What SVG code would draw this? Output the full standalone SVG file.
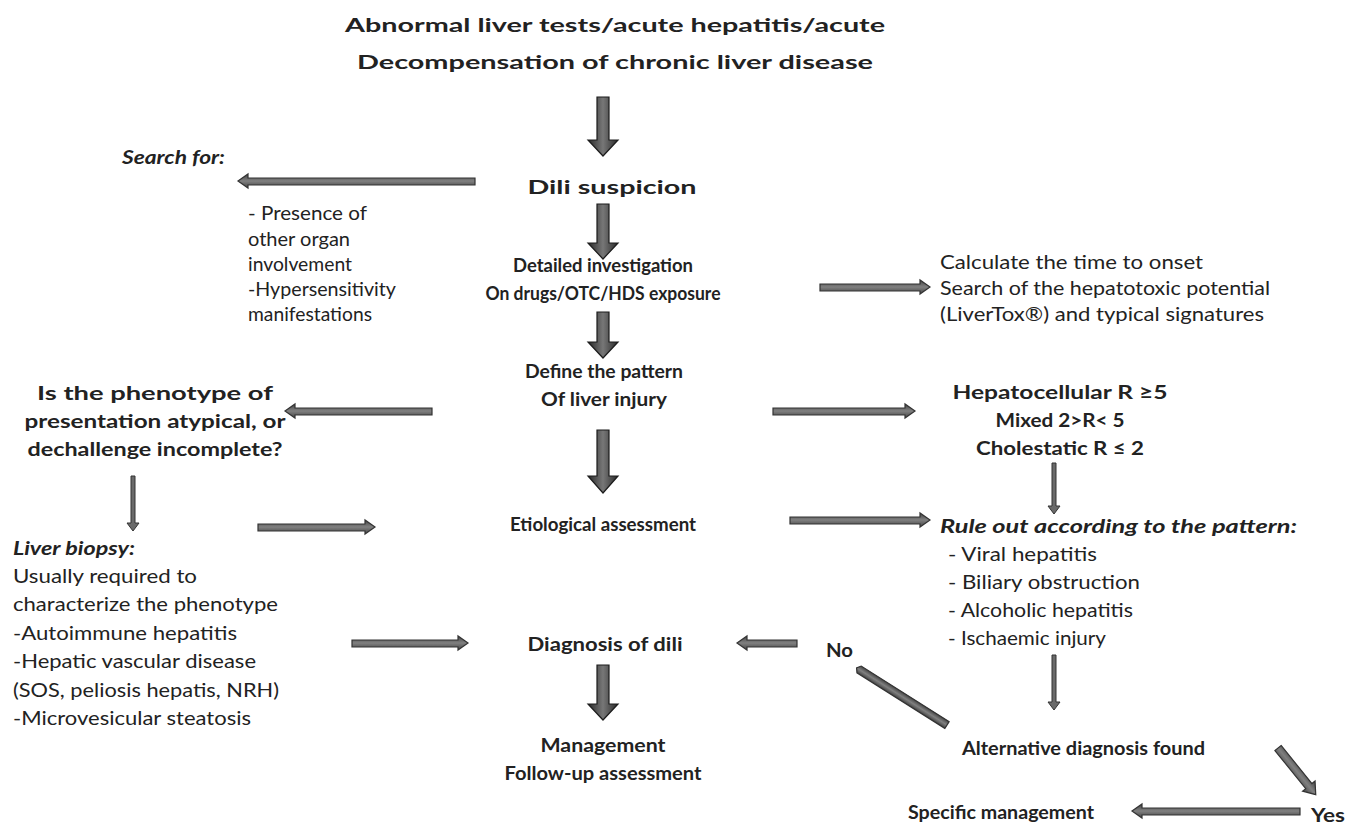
<svg xmlns="http://www.w3.org/2000/svg" width="1357" height="825" viewBox="0 0 1357 825">
<defs>
<linearGradient id="gv" x1="0" y1="0" x2="1" y2="0">
<stop offset="0" stop-color="#2a2a2a"/><stop offset="0.5" stop-color="#777"/><stop offset="1" stop-color="#2a2a2a"/>
</linearGradient>
<linearGradient id="gh" x1="0" y1="0" x2="0" y2="1">
<stop offset="0" stop-color="#444"/><stop offset="0.5" stop-color="#808080"/><stop offset="1" stop-color="#444"/>
</linearGradient>
</defs>
<style>
.t{font-family:Lato,"Open Sans","Liberation Sans",sans-serif;fill:#222;font-size:19px}
.b{font-weight:bold}
.i{font-style:italic}
.c{text-anchor:middle}
.thick{fill:url(#gv);stroke:#1c1c1c;stroke-width:1.2}
.med{fill:url(#gh);stroke:#333;stroke-width:1.2}
.thin{fill:#6a6a6a;stroke:#333;stroke-width:1}
</style>
<rect width="1357" height="825" fill="#fff"/>

<g id="title">
<text class="t b c" x="615" y="32" font-size="27" textLength="540" lengthAdjust="spacingAndGlyphs">Abnormal liver tests/acute hepatitis/acute</text>
<text class="t b c" x="615" y="69" font-size="27" textLength="516" lengthAdjust="spacingAndGlyphs">Decompensation of chronic liver disease</text>
</g>
<g id="dili">
<text class="t b c" x="612" y="194" font-size="23" textLength="169" lengthAdjust="spacingAndGlyphs">Dili suspicion</text>
</g>
<g id="search">
<text class="t b i" x="122" y="164" textLength="103" lengthAdjust="spacingAndGlyphs">Search for:</text>
<text class="t" x="248" y="220" textLength="119" lengthAdjust="spacingAndGlyphs">- Presence of</text>
<text class="t" x="248" y="246" textLength="102" lengthAdjust="spacingAndGlyphs">other organ</text>
<text class="t" x="248" y="271" textLength="104" lengthAdjust="spacingAndGlyphs">involvement</text>
<text class="t" x="248" y="296" textLength="148" lengthAdjust="spacingAndGlyphs">-Hypersensitivity</text>
<text class="t" x="248" y="321" textLength="124" lengthAdjust="spacingAndGlyphs">manifestations</text>
</g>
<g id="investigation">
<text class="t b c" x="603" y="272" font-size="21" textLength="180" lengthAdjust="spacingAndGlyphs">Detailed investigation</text>
<text class="t b c" x="603" y="300" font-size="21" textLength="235" lengthAdjust="spacingAndGlyphs">On drugs/OTC/HDS exposure</text>
</g>
<g id="onset">
<text class="t" x="940" y="269" textLength="263" lengthAdjust="spacingAndGlyphs">Calculate the time to onset</text>
<text class="t" x="940" y="295" textLength="330" lengthAdjust="spacingAndGlyphs">Search of the hepatotoxic potential</text>
<text class="t" x="940" y="321" textLength="324" lengthAdjust="spacingAndGlyphs">(LiverTox®) and typical signatures</text>
</g>
<g id="pattern">
<text class="t b c" x="604" y="378" font-size="21" textLength="158" lengthAdjust="spacingAndGlyphs">Define the pattern</text>
<text class="t b c" x="604" y="406" font-size="21" textLength="126" lengthAdjust="spacingAndGlyphs">Of liver injury</text>
</g>
<g id="phenotype">
<text class="t b c" x="155" y="400" textLength="236" lengthAdjust="spacingAndGlyphs">Is the phenotype of</text>
<text class="t b c" x="155" y="428" textLength="261" lengthAdjust="spacingAndGlyphs">presentation atypical, or</text>
<text class="t b c" x="155" y="456" textLength="255" lengthAdjust="spacingAndGlyphs">dechallenge incomplete?</text>
</g>
<g id="ratio">
<text class="t b c" x="1060" y="399" textLength="215" lengthAdjust="spacingAndGlyphs">Hepatocellular R ≥5</text>
<text class="t b c" x="1060" y="427" textLength="129" lengthAdjust="spacingAndGlyphs">Mixed 2&gt;R&lt; 5</text>
<text class="t b c" x="1060" y="455" textLength="168" lengthAdjust="spacingAndGlyphs">Cholestatic R ≤ 2</text>
</g>
<g id="etiological">
<text class="t b c" x="603" y="531" font-size="21" textLength="186" lengthAdjust="spacingAndGlyphs">Etiological assessment</text>
</g>
<g id="ruleout">
<text class="t b i" x="940" y="533" textLength="357" lengthAdjust="spacingAndGlyphs">Rule out according to the pattern:</text>
<text class="t" x="948" y="561" textLength="149" lengthAdjust="spacingAndGlyphs">- Viral hepatitis</text>
<text class="t" x="948" y="589" textLength="192" lengthAdjust="spacingAndGlyphs">- Biliary obstruction</text>
<text class="t" x="948" y="617" textLength="185" lengthAdjust="spacingAndGlyphs">- Alcoholic hepatitis</text>
<text class="t" x="948" y="645" textLength="158" lengthAdjust="spacingAndGlyphs">- Ischaemic injury</text>
</g>
<g id="biopsy">
<text class="t b i" x="13" y="555" textLength="122" lengthAdjust="spacingAndGlyphs">Liver biopsy:</text>
<text class="t" x="13" y="583" textLength="184" lengthAdjust="spacingAndGlyphs">Usually required to</text>
<text class="t" x="13" y="611" textLength="265" lengthAdjust="spacingAndGlyphs">characterize the phenotype</text>
<text class="t" x="13" y="640" textLength="224" lengthAdjust="spacingAndGlyphs">-Autoimmune hepatitis</text>
<text class="t" x="13" y="668" textLength="243" lengthAdjust="spacingAndGlyphs">-Hepatic vascular disease</text>
<text class="t" x="13" y="697" textLength="266" lengthAdjust="spacingAndGlyphs">(SOS, peliosis hepatis, NRH)</text>
<text class="t" x="13" y="725" textLength="238" lengthAdjust="spacingAndGlyphs">-Microvesicular steatosis</text>
</g>
<g id="diagnosis">
<text class="t b c" x="605" y="651" font-size="21" textLength="155" lengthAdjust="spacingAndGlyphs">Diagnosis of dili</text>
</g>
<g id="no">
<text class="t b" x="826" y="657" textLength="27" lengthAdjust="spacingAndGlyphs">No</text>
</g>
<g id="management">
<text class="t b c" x="603" y="752" font-size="21" textLength="125" lengthAdjust="spacingAndGlyphs">Management</text>
<text class="t b c" x="603" y="780" font-size="21" textLength="197" lengthAdjust="spacingAndGlyphs">Follow-up assessment</text>
</g>
<g id="alternative">
<text class="t b" x="962" y="755" textLength="243" lengthAdjust="spacingAndGlyphs">Alternative diagnosis found</text>
</g>
<g id="specific">
<text class="t b" x="908" y="819" textLength="186" lengthAdjust="spacingAndGlyphs">Specific management</text>
</g>
<g id="yes">
<text class="t b" x="1311" y="822" textLength="34" lengthAdjust="spacingAndGlyphs">Yes</text>
</g>

<g id="connectors">
<!-- thick vertical arrows -->
<polygon class="thick" points="597,97 609,97 609,140 618,140 603,156 588,140 597,140"/>
<polygon class="thick" points="597,204 609,204 609,243 618,243 603,259 588,243 597,243"/>
<polygon class="thick" points="597,312 609,312 609,342 618,342 603,358 588,342 597,342"/>
<polygon class="thick" points="597,430 609,430 609,476 618,476 603,493 588,476 597,476"/>
<polygon class="thick" points="597,665 609,665 609,704 618,704 603,720 588,704 597,704"/>
<!-- medium horizontal arrows -->
<polygon class="med" points="475,178 248,178 248,174 238,181 248,188 248,185 475,185"/>
<polygon class="med" points="820,284 920,284 920,280 930,287 920,294 920,291 820,291"/>
<polygon class="med" points="432,408 295,408 295,404 285,411 295,418 295,415 432,415"/>
<polygon class="med" points="773,408 905,408 905,404 915,411 905,418 905,415 773,415"/>
<polygon class="med" points="258,524 365,524 365,520 375,527 365,534 365,531 258,531"/>
<polygon class="med" points="790,517 920,517 920,513 930,520 920,527 920,524 790,524"/>
<polygon class="med" points="352,640 458,640 458,636 468,643 458,650 458,647 352,647"/>
<polygon class="med" points="797,640 747,640 747,636 737,643 747,650 747,647 797,647"/>
<polygon class="med" points="1300,808 1142,808 1142,804 1132,811 1142,818 1142,815 1300,815"/>
<!-- thin vertical arrows -->
<polygon class="thin" points="131,476 135,476 135,523 139,523 133,531 127,523 131,523"/>
<polygon class="thin" points="1052,463 1056,463 1056,506 1060,506 1054,514 1048,506 1052,506"/>
<polygon class="thin" points="1052,655 1056,655 1056,702 1060,702 1054,710 1048,702 1052,702"/>
<!-- diagonal "No" bar -->
<polygon class="med" transform="translate(947,725) rotate(212.3)" points="0,-4 104,-4 107,0 104,4 0,4"/>
<!-- diagonal "Yes" arrow -->
<polygon class="med" transform="translate(1278,748) rotate(51)" points="0,-4 49,-4 49,-8 60,0 49,8 49,4 0,4"/>
</g>
</svg>
